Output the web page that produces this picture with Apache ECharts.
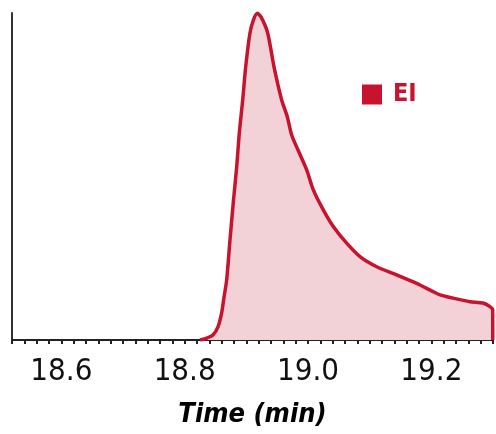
<!DOCTYPE html>
<html><head><meta charset="utf-8">
<script src="https://cdn.jsdelivr.net/npm/echarts@6/dist/echarts.min.js"></script>
<style>html,body{margin:0;padding:0;background:#fff}#c{width:496px;height:434px}</style>
</head><body><div id="c"></div>
<script>
const seriesName = 'EI';
const times = [18.8249,18.8362,18.8459,18.8540,18.8600,18.8638,18.8681,18.8735,18.8792,18.8844,18.8886,18.8941,18.8990,18.9059,18.9116,18.9178,18.9238,18.9346,18.9448,18.9573,18.9664,18.9735,18.9838,18.9979,19.0086,19.0248,19.0410,19.0627,19.0843,19.1114,19.1438,19.1762,19.2027,19.2140,19.2351,19.2627,19.2837,19.2951,19.2995,19.2996];
const intensity = [0,0.6,1.5,4.0,8.3,13.1,18.3,30.6,42.8,53.0,63.3,73.4,83.6,93.9,97.9,99.9,98.8,93.9,83.6,73.4,68.3,62.7,58.1,52.0,45.9,39.8,34.7,29.6,25.5,22.4,19.9,17.3,14.8,13.8,12.8,11.7,11.3,10.2,9.2,0];
const xTickLabels = ['18.6','18.8','19.0','19.2'];

const font = '"DejaVu Sans Condensed","Liberation Sans Narrow",sans-serif';
const red = '#c8132f';
const chart = echarts.init(document.getElementById('c'), null, {renderer:'canvas'});
chart.setOption({
  animation:false,
  grid:{left:12,right:1,top:13,bottom:94,containLabel:false},
  legend:{
    show:true,left:362,top:82,padding:0,
    itemWidth:20,itemHeight:20,icon:'rect',
    data:[{name:seriesName,itemStyle:{color:red}}],
    textStyle:{color:red,fontFamily:font,fontWeight:'bold',fontSize:25,padding:[0,0,0,6]}
  },
  xAxis:{
    type:'value',min:18.52,max:19.30,interval:0.02,
    name:'Time (min)',nameLocation:'middle',nameGap:61,
    nameTextStyle:{fontFamily:font,fontWeight:'bold',fontStyle:'italic',fontSize:27,color:'#000'},
    axisLine:{show:true,lineStyle:{color:'#222',width:2}},
    axisTick:{show:true,length:4,lineStyle:{color:'#222',width:2}},
    splitLine:{show:false},
    axisLabel:{
      margin:16,fontFamily:font,fontSize:31,color:'#111',
      formatter:function(v){
        const s=v.toFixed(1);
        return (Math.abs(v*5-Math.round(v*5))<1e-6 && xTickLabels.indexOf(s)>=0)?s:'';
      }
    }
  },
  yAxis:{
    type:'value',min:0,max:100,
    axisLine:{show:true,lineStyle:{color:'#333',width:2}},
    axisTick:{show:false},axisLabel:{show:false},splitLine:{show:false}
  },
  series:[{
    name:seriesName,type:'line',
    data:times.map((t,i)=>[t,intensity[i]]),
    showSymbol:false,symbol:'none',smooth:0.25,
    lineStyle:{color:red,width:3.5,join:'round'},
    itemStyle:{color:red},
    areaStyle:{color:'#f2d2d6',opacity:1}
  }]
});
</script></body></html>
